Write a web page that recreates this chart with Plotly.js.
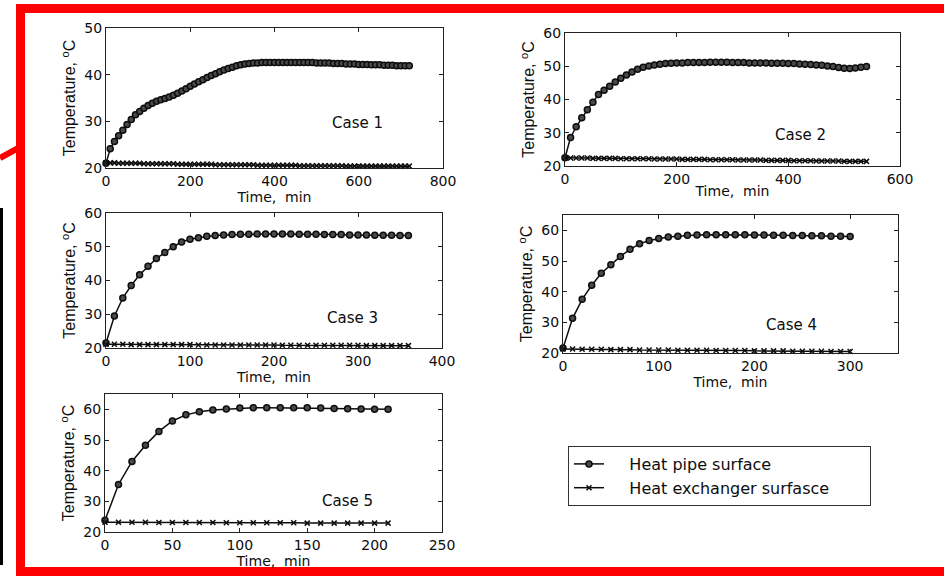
<!DOCTYPE html>
<html>
<head>
<meta charset="utf-8">
<script src="https://cdn.plot.ly/plotly-3.0.1.min.js"></script>
<style>
html,body{margin:0;padding:0;background:#fff;}
#chart{width:944px;height:577px;}
</style>
</head>
<body>
<div id="chart"></div>
<script>
// ---------- data ----------
var seriesNames = ["Heat pipe surface", "Heat exchanger surfasce"];
var caseLabels = ["Case 1", "Case 2", "Case 3", "Case 4", "Case 5"];

var t1 = [0,10,20,30,40,50,60,70,80,90,100,110,120,130,140,150,160,170,180,190,200,210,220,230,240,250,260,270,280,290,300,310,320,330,340,350,360,370,380,390,400,410,420,430,440,450,460,470,480,490,500,510,520,530,540,550,560,570,580,590,600,610,620,630,640,650,660,670,680,690,700,710,720];
var pipe1 = [21.0,24.1,25.7,26.9,28.1,29.3,30.4,31.4,32.1,32.8,
             33.4,33.9,34.3,34.6,34.9,35.2,35.6,36.0,36.5,37.0,
             37.5,38.0,38.5,38.9,39.4,39.8,40.2,40.6,41.0,41.3,
             41.6,41.9,42.1,42.3,42.4,42.5,42.5,42.6,42.6,42.6,
             42.6,42.6,42.6,42.6,42.6,42.6,42.6,42.6,42.6,42.6,
             42.5,42.5,42.5,42.5,42.4,42.4,42.4,42.3,42.3,42.3,
             42.2,42.2,42.2,42.1,42.1,42.1,42.0,42.0,42.0,41.9,
             41.9,41.9,41.9];
var hx1 = [21.1,21.1,21.1,21.0,21.0,21.0,21.0,21.0,21.0,20.9,
           20.9,20.9,20.9,20.9,20.9,20.9,20.9,20.8,20.8,20.8,
           20.8,20.8,20.8,20.8,20.8,20.8,20.7,20.7,20.7,20.7,
           20.7,20.7,20.7,20.7,20.7,20.7,20.6,20.6,20.6,20.6,
           20.6,20.6,20.6,20.6,20.6,20.6,20.5,20.5,20.5,20.5,
           20.5,20.5,20.5,20.5,20.5,20.5,20.5,20.4,20.4,20.4,
           20.4,20.4,20.4,20.4,20.4,20.4,20.4,20.4,20.4,20.4,
           20.4,20.4,20.4];

var t2 = [0,10,20,30,40,50,60,70,80,90,100,110,120,130,140,150,160,170,180,190,200,210,220,230,240,250,260,270,280,290,300,310,320,330,340,350,360,370,380,390,400,410,420,430,440,450,460,470,480,490,500,510,520,530,540];
var pipe2 = [22.5,28.6,31.8,34.5,36.9,39.2,41.5,42.8,44.0,45.3,
             46.4,47.4,48.3,49.1,49.7,50.1,50.4,50.6,50.8,50.9,
             51.0,51.0,51.1,51.1,51.1,51.1,51.2,51.2,51.2,51.2,
             51.1,51.1,51.1,51.0,51.0,51.0,51.0,50.9,50.9,50.9,
             50.8,50.8,50.7,50.6,50.5,50.4,50.3,50.1,49.9,49.6,
             49.4,49.3,49.5,49.7,49.9];
var hx2 = [22.5,22.4,22.4,22.4,22.4,22.3,22.3,22.3,22.3,22.3,
           22.2,22.2,22.2,22.2,22.2,22.2,22.1,22.1,22.1,22.1,
           22.1,22.0,22.0,22.0,22.0,22.0,21.9,21.9,21.9,21.9,
           21.9,21.8,21.8,21.8,21.8,21.8,21.7,21.7,21.7,21.7,
           21.7,21.6,21.6,21.6,21.6,21.5,21.5,21.5,21.5,21.5,
           21.4,21.4,21.4,21.4,21.4];

var t3 = [0,10,20,30,40,50,60,70,80,90,100,110,120,130,140,150,160,170,180,190,200,210,220,230,240,250,260,270,280,290,300,310,320,330,340,350,360];
var pipe3 = [21.5,29.5,34.8,38.5,41.7,44.2,46.5,48.3,50.0,51.4,
             52.2,52.7,53.1,53.3,53.5,53.6,53.7,53.7,53.8,53.8,
             53.8,53.8,53.8,53.7,53.7,53.7,53.6,53.6,53.6,53.5,
             53.5,53.5,53.4,53.4,53.4,53.3,53.3];
var hx3 = [21.1,21.1,21.1,21.0,21.0,21.0,21.0,21.0,21.0,21.0,
           21.0,20.9,20.9,20.9,20.9,20.9,20.9,20.9,20.9,20.9,
           20.9,20.8,20.8,20.8,20.8,20.8,20.8,20.8,20.8,20.8,
           20.8,20.7,20.7,20.7,20.7,20.7,20.7];

var t4 = [0,10,20,30,40,50,60,70,80,90,100,110,120,130,140,150,160,170,180,190,200,210,220,230,240,250,260,270,280,290,300];
var pipe4 = [21.6,31.3,37.5,42.1,46.0,48.8,51.5,53.8,55.6,56.7,
             57.3,57.8,58.1,58.4,58.5,58.6,58.6,58.6,58.6,58.6,
             58.5,58.5,58.4,58.4,58.3,58.3,58.2,58.2,58.1,58.1,58.0];
var hx4 = [21.3,21.3,21.2,21.2,21.2,21.1,21.1,21.1,21.0,21.0,
           21.0,21.0,20.9,20.9,20.9,20.9,20.8,20.8,20.8,20.8,
           20.7,20.7,20.7,20.7,20.6,20.6,20.6,20.6,20.5,20.5,20.5];

var t5 = [0,10,20,30,40,50,60,70,80,90,100,110,120,130,140,150,160,170,180,190,200,210];
var pipe5 = [23.8,35.5,43.0,48.3,52.8,56.2,58.2,59.2,59.8,60.1,
             60.4,60.5,60.5,60.5,60.5,60.5,60.4,60.3,60.2,60.1,60.0,60.0];
var hx5 = [23.2,23.2,23.2,23.2,23.1,23.1,23.1,23.1,23.1,23.0,
           23.0,23.0,23.0,23.0,23.0,22.9,22.9,22.9,22.9,22.9,22.9,22.9];

// axis ranges / ticks
var xRanges = [[0,800],[0,600],[0,400],[0,350],[0,250]];
var xDticks = [200,200,100,100,50];
var yRanges = [[20,50],[20,60],[20,60],[20,65],[20,65]];
var labelPos = [[596,29.6],[421,29.3],[293,28.9],[239,29.2],[180,30]];

// ---------- build ----------
var times = [t1,t2,t3,t4,t5];
var pipes = [pipe1,pipe2,pipe3,pipe4,pipe5];
var hxs = [hx1,hx2,hx3,hx4,hx5];

var W = 944, H = 577;
var boxes = [[106,443,28,168],[565,900,33,166],[106,442,213,348],[563,898,215,353],[105,442,394,532]];

var ink = '#0d0d0d';
var mainFont = 'DejaVu Sans, Verdana, sans-serif';
var narrowFont = 'Liberation Sans Narrow, Arial Narrow, Liberation Sans, sans-serif';
var pad = '\u00a0\u00a0\u00a0\u00a0';
var tail = '\u00a0\u00a0\u00a0\u00a0\u00a0\u00a0\u00a0';
var traces = [];
var layout = {
  width: W, height: H,
  margin: {l:0, r:0, t:0, b:0},
  paper_bgcolor: '#fff', plot_bgcolor: '#fff',
  font: {family: mainFont, color: ink, size: 14},
  showlegend: true,
  legend: {
    x: 568/W, y: 1-446/H, xanchor: 'left', yanchor: 'top',
    bgcolor: '#fff', bordercolor: '#333', borderwidth: 1,
    font: {family: mainFont, size: 16, color: ink},
    tracegroupgap: 0, itemwidth: 30
  },
  annotations: [],
  shapes: []
};

for (var i = 0; i < 5; i++) {
  var sfx = i === 0 ? '' : String(i+1);
  var b = boxes[i];
  traces.push({
    x: times[i], y: pipes[i], xaxis: 'x'+sfx, yaxis: 'y'+sfx,
    name: pad + seriesNames[0] + tail, legendgroup: 'p', showlegend: i === 0,
    mode: 'lines+markers', type: 'scatter',
    line: {color: ink, width: 1.5},
    marker: {symbol: 'circle', size: 6, color: '#4a4a4a', line: {width: 1.5, color: ink}},
    cliponaxis: false
  });
  traces.push({
    x: times[i], y: hxs[i], xaxis: 'x'+sfx, yaxis: 'y'+sfx,
    name: pad + seriesNames[1] + tail, legendgroup: 'h', showlegend: i === 0,
    mode: 'lines+markers', type: 'scatter',
    line: {color: ink, width: 1.5},
    marker: {symbol: 'x-thin-open', size: 5, color: ink, line: {width: 1.5, color: ink}},
    cliponaxis: false
  });
  layout['xaxis'+sfx] = {
    domain: [b[0]/W, b[1]/W], anchor: 'y'+sfx,
    range: xRanges[i], dtick: xDticks[i], tick0: 0,
    showline: true, linecolor: '#222', linewidth: 1, mirror: 'ticks',
    ticks: 'inside', ticklen: 4, tickcolor: '#222', showgrid: false, zeroline: false,
    tickfont: {size: 14, color: ink, family: mainFont},
    title: {text: 'Time,  min', font: {size: 14, color: ink, family: mainFont}, standoff: 0}
  };
  layout['yaxis'+sfx] = {
    domain: [1-b[3]/H, 1-b[2]/H], anchor: 'x'+sfx,
    range: yRanges[i], dtick: 10, tick0: 0,
    showline: true, linecolor: '#222', linewidth: 1, mirror: 'ticks',
    ticks: 'inside', ticklen: 4, tickcolor: '#222', showgrid: false, zeroline: false,
    tickfont: {size: 14, color: ink, family: mainFont},
    title: {text: 'Temperature, <sup>o</sup>C', font: {family: narrowFont, size: 16, color: ink}, standoff: 4}
  };
  layout.annotations.push({
    xref: 'x'+sfx, yref: 'y'+sfx, x: labelPos[i][0], y: labelPos[i][1],
    text: caseLabels[i], showarrow: false,
    font: {size: 15, color: ink, family: mainFont}
  });
}

// decorative frame (red border, red pointer line, black strip)
var red = '#fe0000';
function rect(x0,y0,x1,y1,c){ return {type:'rect', xref:'paper', yref:'paper', x0:x0/W, x1:x1/W, y0:1-y1/H, y1:1-y0/H, fillcolor:c, line:{width:0}, layer:'above'}; }
layout.shapes.push(rect(16,4,944,13,red));
layout.shapes.push(rect(16,4,25,576,red));
layout.shapes.push(rect(16,567,944,576,red));
layout.shapes.push(rect(0,208,3,565,'#000'));
layout.shapes.push({type:'line', xref:'paper', yref:'paper', x0:0, y0:1-158/H, x1:22/W, y1:1-146/H, line:{color:red, width:6}, layer:'above'});

Plotly.newPlot('chart', traces, layout, {staticPlot: true});
</script>
</body>
</html>
